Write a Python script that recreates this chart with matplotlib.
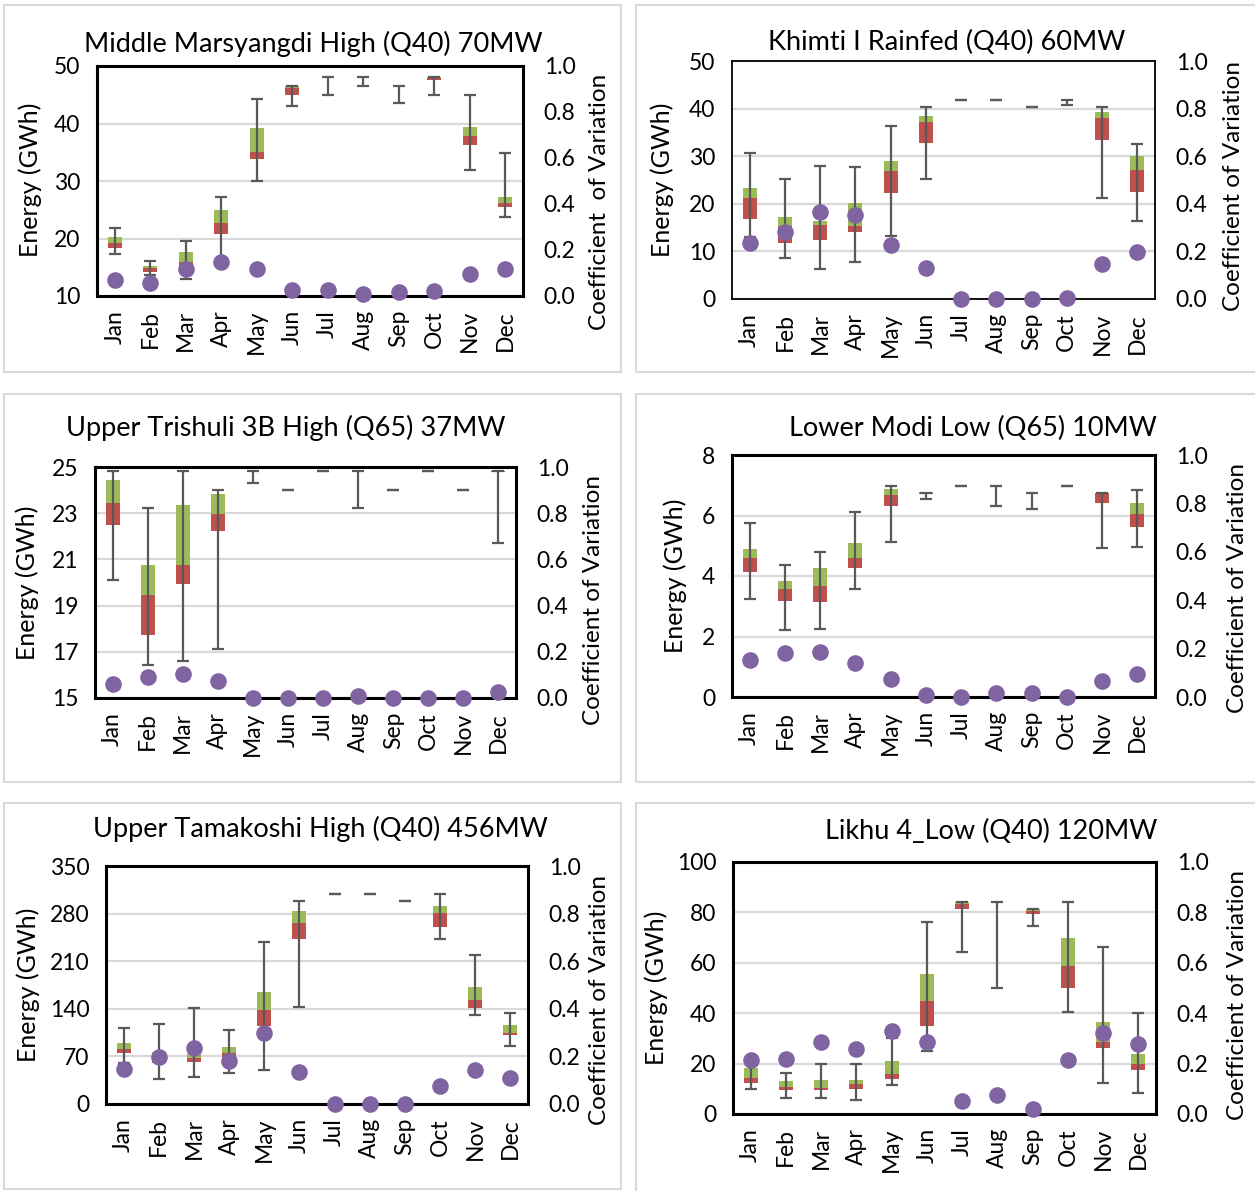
import numpy as np
import matplotlib
matplotlib.use("Agg")
import matplotlib.pyplot as plt
from matplotlib.patches import Rectangle

plt.rcParams['font.family'] = ['Lato', 'DejaVu Sans']

months = ['Jan', 'Feb', 'Mar', 'Apr', 'May', 'Jun', 'Jul', 'Aug', 'Sep', 'Oct', 'Nov', 'Dec']

# Middle Marsyangdi High (Q40) 70MW
mm_min = [17.3, 13.6, 13.0, 16.3, 30.0, 43.1, 45.0, 46.6, 43.5, 44.9, 31.9, 23.7]
mm_q1 = [18.3, 14.1, 15.1, 20.8, 33.9, 44.9, 48.1, 48.1, 46.5, 47.6, 36.3, 25.5]
mm_med = [19.3, 14.9, 16.0, 22.7, 35.1, 46.1, 48.1, 48.1, 46.5, 47.9, 37.8, 26.2]
mm_q3 = [20.2, 15.2, 17.6, 24.9, 39.2, 46.5, 48.1, 48.1, 46.5, 48.1, 39.4, 27.3]
mm_max = [21.9, 16.1, 19.5, 27.3, 44.2, 46.6, 48.1, 48.1, 46.5, 48.1, 44.9, 34.8]
mm_cv = [0.07, 0.055, 0.116, 0.149, 0.116, 0.026, 0.026, 0.009, 0.019, 0.022, 0.095, 0.116]

# Khimti I Rainfed (Q40) 60MW
kh_min = [13.0, 8.6, 6.2, 7.7, 13.3, 25.3, 41.8, 41.8, 40.4, 40.8, 21.3, 16.3]
kh_q1 = [16.8, 11.7, 12.4, 14.0, 22.3, 32.7, 41.8, 41.8, 40.4, 41.5, 33.4, 22.4]
kh_med = [21.2, 15.4, 15.5, 15.3, 26.9, 37.2, 41.8, 41.8, 40.4, 41.5, 38.1, 27.1]
kh_q3 = [23.4, 17.2, 16.4, 20.1, 29.0, 38.4, 41.8, 41.8, 40.4, 41.5, 39.3, 30.1]
kh_max = [30.7, 25.2, 28.0, 27.7, 36.3, 40.4, 41.8, 41.8, 40.4, 41.9, 40.4, 32.5]
kh_cv = [0.236, 0.28, 0.367, 0.352, 0.226, 0.13, 0.0, 0.0, 0.0, 0.004, 0.149, 0.196]

# Upper Trishuli 3B High (Q65) 37MW
ut_min = [20.11, 16.43, 16.59, 17.10, 24.29, 24.02, 24.83, 23.23, 24.02, 24.83, 24.02, 21.71]
ut_q1 = [22.47, 17.71, 19.92, 22.21, 24.83, 24.02, 24.83, 24.83, 24.02, 24.83, 24.02, 24.80]
ut_med = [23.44, 19.47, 20.74, 22.98, 24.83, 24.02, 24.83, 24.83, 24.02, 24.83, 24.02, 24.83]
ut_q3 = [24.42, 20.77, 23.34, 23.83, 24.83, 24.02, 24.83, 24.83, 24.02, 24.83, 24.02, 24.83]
ut_max = [24.83, 23.21, 24.83, 24.02, 24.83, 24.02, 24.83, 24.83, 24.02, 24.83, 24.02, 24.83]
ut_cv = [0.059, 0.091, 0.104, 0.075, 0.0, 0.0, 0.0, 0.01, 0.0, 0.0, 0.0, 0.026]

# Lower Modi Low (Q65) 10MW
lm_min = [3.25, 2.23, 2.25, 3.56, 5.12, 6.56, 6.98, 6.32, 6.20, 6.98, 4.91, 4.97]
lm_q1 = [4.14, 3.18, 3.13, 4.28, 6.33, 6.71, 6.98, 6.98, 6.76, 6.98, 6.41, 5.61]
lm_med = [4.59, 3.57, 3.67, 4.59, 6.67, 6.74, 6.98, 6.98, 6.76, 6.98, 6.74, 6.06]
lm_q3 = [4.88, 3.83, 4.25, 5.08, 6.87, 6.77, 6.98, 6.98, 6.76, 6.98, 6.76, 6.41]
lm_max = [5.75, 4.38, 4.80, 6.11, 6.98, 6.76, 6.98, 6.98, 6.76, 6.98, 6.76, 6.85]
lm_cv = [0.152, 0.182, 0.185, 0.142, 0.073, 0.008, 0.0, 0.018, 0.017, 0.0, 0.066, 0.094]

# Upper Tamakoshi High (Q40) 456MW
tk_min = [60.0, 36.7, 40.1, 45.0, 49.9, 142.7, 309.4, 309.4, 299.1, 242.9, 131.0, 86.0]
tk_q1 = [74.3, 60.1, 61.1, 67.4, 114.4, 242.9, 309.4, 309.4, 299.1, 260.0, 140.8, 101.2]
tk_med = [81.6, 66.0, 67.4, 74.3, 137.8, 265.9, 309.4, 309.4, 299.1, 281.0, 153.5, 105.1]
tk_q3 = [90.4, 76.0, 73.3, 83.6, 164.2, 284.5, 309.4, 309.4, 299.1, 290.8, 172.0, 116.3]
tk_max = [112.4, 117.8, 140.8, 109.0, 238.0, 299.1, 309.4, 309.4, 299.1, 309.4, 219.0, 134.4]
tk_cv = [0.148, 0.197, 0.236, 0.179, 0.299, 0.135, 0.0, 0.0, 0.0, 0.077, 0.142, 0.108]

# Likhu 4_Low (Q40) 120MW
lk_min = [9.8, 6.2, 6.5, 5.4, 11.6, 25.0, 64.3, 50.1, 74.8, 40.4, 12.5, 8.5]
lk_q1 = [12.5, 9.6, 9.4, 9.9, 14.0, 35.0, 81.4, 84.0, 79.5, 50.1, 26.0, 17.4]
lk_med = [14.1, 10.6, 10.4, 11.9, 15.9, 44.9, 83.5, 84.0, 80.6, 58.7, 28.7, 19.7]
lk_q3 = [18.1, 13.1, 13.5, 13.3, 21.1, 55.7, 84.0, 84.0, 81.4, 69.9, 36.6, 23.8]
lk_max = [21.0, 16.2, 19.7, 19.7, 30.0, 76.0, 84.0, 84.0, 81.4, 84.0, 66.2, 39.9]
lk_cv = [0.213, 0.218, 0.284, 0.259, 0.329, 0.285, 0.053, 0.075, 0.021, 0.213, 0.322, 0.276]

W, H = 1255, 1191
fig = plt.figure(figsize=(W / 100, H / 100), dpi=100)

RED = '#C0504D'
GREEN = '#9BBB59'
PURPLE = '#8064A2'
WHISK = '#595959'
GRID = '#D9D9D9'


def fx(x):
    return x / W


def fy(y):
    return 1 - y / H


panels = [
    dict(title='Middle Marsyangdi High (Q40) 70MW', data=(mm_min, mm_q1, mm_med, mm_q3, mm_max, mm_cv),
         box=(4, 5, 621, 372), ax=(97, 66, 523, 296), ylim=(10, 50), yticks=np.arange(10, 51, 10),
         title_xy=(313, 44), yl_xy=(30, 180), yr_xy=(600, 202), yr_text='Coefficient  of Variation', frame=2.2),
    dict(title='Khimti I Rainfed (Q40) 60MW', data=(kh_min, kh_q1, kh_med, kh_q3, kh_max, kh_cv),
         box=(636, 5, 1262, 372), ax=(732, 61, 1155, 299), ylim=(0, 50), yticks=np.arange(0, 51, 10),
         title_xy=(947, 42), yl_xy=(662, 180), yr_xy=(1234, 186), yr_text='Coefficient of Variation', frame=1.3),
    dict(title='Upper Trishuli 3B High (Q65) 37MW', data=(ut_min, ut_q1, ut_med, ut_q3, ut_max, ut_cv),
         box=(4, 394, 621, 782), ax=(95, 467, 516, 698), ylim=(15, 25), yticks=np.arange(15, 26, 2),
         title_xy=(286, 428), yl_xy=(27, 583), yr_xy=(594, 600), yr_text='Coefficient of Variation', frame=2.2),
    dict(title='Lower Modi Low (Q65) 10MW', data=(lm_min, lm_q1, lm_med, lm_q3, lm_max, lm_cv),
         box=(636, 394, 1262, 782), ax=(732, 455, 1155, 697), ylim=(0, 8), yticks=np.arange(0, 9, 2),
         title_xy=(973, 428), yl_xy=(675, 576), yr_xy=(1238, 588), yr_text='Coefficient of Variation', frame=2.2),
    dict(title='Upper Tamakoshi High (Q40) 456MW', data=(tk_min, tk_q1, tk_med, tk_q3, tk_max, tk_cv),
         box=(4, 803, 621, 1189), ax=(106, 866, 528, 1104), ylim=(0, 350), yticks=np.arange(0, 351, 70),
         title_xy=(320, 829), yl_xy=(28, 985), yr_xy=(600, 1000), yr_text='Coefficient of Variation', frame=2.2),
    dict(title='Likhu 4_Low (Q40) 120MW', data=(lk_min, lk_q1, lk_med, lk_q3, lk_max, lk_cv),
         box=(636, 803, 1262, 1194), ax=(733, 862, 1156, 1114), ylim=(0, 100), yticks=np.arange(0, 101, 20),
         title_xy=(991, 831), yl_xy=(656, 988), yr_xy=(1238, 995), yr_text='Coefficient of Variation', frame=2.2),
]

x = np.arange(len(months))

for p in panels:
    bx0, by0, bx1, by1 = p['box']
    fig.patches.append(Rectangle((fx(bx0), fy(by1)), fx(bx1 - bx0), (by1 - by0) / H,
                                 transform=fig.transFigure, fill=False, edgecolor=GRID, lw=1.5))

    l, t, r, b = p['ax']
    ax = fig.add_axes([fx(l), fy(b), fx(r - l), (b - t) / H])
    wmin, q1, med, q3, wmax, cv = [np.array(a) for a in p['data']]

    ax.bar(x, med - q1, bottom=q1, width=0.4, color=RED, zorder=2)
    ax.bar(x, q3 - med, bottom=med, width=0.4, color=GREEN, zorder=2)
    ax.errorbar(x, (wmin + wmax) / 2, yerr=[(wmax - wmin) / 2, (wmax - wmin) / 2], fmt='none',
                ecolor=WHISK, elinewidth=1.6, capsize=4.5, capthick=1.6, zorder=3)

    ax.set_xlim(-0.5, 11.5)
    ax.set_ylim(*p['ylim'])
    ax.set_yticks(p['yticks'])
    ax.yaxis.grid(True, color=GRID, lw=1.6, zorder=0)
    ax.set_axisbelow(True)
    ax.set_xticks(x)
    ax.set_xticklabels(months, rotation=90)
    ax.tick_params(axis='both', length=0, labelsize=16.5)
    ax.tick_params(axis='y', pad=12)
    ax.tick_params(axis='x', pad=10)
    for s in ax.spines.values():
        s.set_linewidth(p['frame'])
        s.set_color('black')

    ax2 = ax.twinx()
    ax2.scatter(x, cv, s=120, color=PURPLE, zorder=5, clip_on=False)
    ax2.set_ylim(0, 1)
    ax2.set_yticks(np.arange(0, 1.01, 0.2))
    ax2.set_yticklabels(['%.1f' % v for v in np.arange(0, 1.01, 0.2)])
    ax2.tick_params(axis='y', length=0, labelsize=16.5, pad=15)
    for s in ax2.spines.values():
        s.set_visible(False)

    fig.text(fx(p['title_xy'][0]), fy(p['title_xy'][1]), p['title'], ha='center', va='center', fontsize=19.5)
    fig.text(fx(p['yl_xy'][0]), fy(p['yl_xy'][1]), 'Energy (GWh)', ha='center', va='center',
             rotation=90, fontsize=18)
    fig.text(fx(p['yr_xy'][0]), fy(p['yr_xy'][1]), p['yr_text'], ha='center', va='center',
             rotation=90, fontsize=17.5)

fig.savefig('out.png', dpi=100)
